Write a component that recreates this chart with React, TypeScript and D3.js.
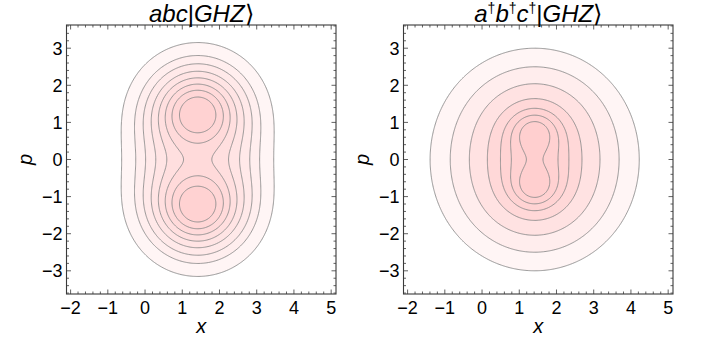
import React from 'react';
import * as d3 from 'd3';

// axis ranges and tick labels
const xDomain = [-2.11, 5.13];
const pDomain = [-3.625, 3.625];
const xTicks = [-2, -1, 0, 1, 2, 3, 4, 5];
const pTicks = [-3, -2, -1, 0, 1, 2, 3];

// left panel, abc|GHZ>: two lobes on the p axis, partly coherent (Husimi-like)
const leftCentre = [1.414, 0];
const leftLobe = 1.2;
const leftCoherence = -0.28;
const leftSpread = 2;
const leftLevels = [0.147, 0.272, 0.377, 0.485, 0.585, 0.678, 0.762, 0.839];
const leftPeak = 0.924;

// right panel, a†b†c†|GHZ>: polynomial (1, x², p²) times a round gaussian
const rightCentre = [1.414, 0];
const rightPoly = [1, 0.314, 0.49];
const rightSpread = 2.5;
const rightLevels = [0.148, 0.334, 0.574, 0.79, 0.9025, 0.96, 0.9956];
const rightPeak = 1.02;

const leftField = (x: number, p: number) => {
  const dx = x - leftCentre[0];
  const q = p - leftCentre[1];
  const s = leftSpread;
  const a = leftLobe;
  const g1 = Math.exp(-(dx * dx + (q - a) * (q - a)) / s);
  const g2 = Math.exp(-(dx * dx + (q + a) * (q + a)) / s);
  const mix = 2 * leftCoherence * Math.exp(-(a * a) / s) * Math.exp(-(dx * dx + q * q) / s) * Math.cos(a * dx);
  return g1 + g2 + mix;
};

const rightField = (x: number, p: number) => {
  const dx = x - rightCentre[0];
  const q = p - rightCentre[1];
  const poly = rightPoly[0] + rightPoly[1] * dx * dx + rightPoly[2] * q * q;
  return poly * Math.exp(-(dx * dx + q * q) / rightSpread);
};

const W = 705;
const H = 345;
const top = 25;
const bottom = 294;
const panelW = 269.5;
const fontFamily = '"Liberation Sans", Arial, sans-serif';
const shade = d3.interpolateRgb('rgb(255,252,252)', 'rgb(255,206,206)');

const Panel = ({ left, field, levels, peak, title }) => {
  const xScale = d3.scaleLinear().domain(xDomain).range([left, left + panelW]);
  const pScale = d3.scaleLinear().domain(pDomain).range([bottom, top]);

  const n = 300;
  const sx = (xDomain[1] - xDomain[0]) / (n - 1);
  const sp = (pDomain[1] - pDomain[0]) / (n - 1);
  const values: number[] = new Array(n * n);
  for (let j = 0; j < n; j++) {
    for (let i = 0; i < n; i++) {
      values[j * n + i] = field(xDomain[0] + i * sx, pDomain[1] - j * sp);
    }
  }
  const contours = d3.contours().size([n, n]).thresholds(levels)(values);
  const proj = d3.geoTransform({
    point: function (gx, gy) {
      this.stream.point(
        xScale(xDomain[0] + (gx - 0.5) * sx),
        pScale(pDomain[1] - (gy - 0.5) * sp)
      );
    },
  });
  const path = d3.geoPath(proj);

  const xMinor = d3.range(-2, 5.01, 0.2).filter(v => v >= xDomain[0] && v <= xDomain[1]);
  const pMinor = d3.range(-3.6, 3.61, 0.2).filter(v => v >= pDomain[0] && v <= pDomain[1]);
  const isMajor = (v: number) => Math.abs(v - Math.round(v)) < 1e-6;
  const clipId = 'clip' + Math.round(left);
  const frameColor = '#3a3a3a';

  return (
    <g>
      <defs>
        <clipPath id={clipId}>
          <rect x={left} y={top} width={panelW} height={bottom - top} />
        </clipPath>
      </defs>
      <rect x={left} y={top} width={panelW} height={bottom - top} fill="#fff" />
      <g clipPath={`url(#${clipId})`}>
        {contours.map((c, k) => (
          <path key={'f' + k} d={path(c)} fill={shade(c.value / peak)} stroke="none" />
        ))}
        {contours.map((c, k) => (
          <path key={'s' + k} d={path(c)} fill="none" stroke="#8a8a8a" strokeWidth={0.9} />
        ))}
      </g>
      {/* ticks on all four sides, pointing in */}
      {xMinor.map((v, k) => {
        const len = isMajor(v) ? 4.5 : 2.5;
        const x = xScale(v);
        return (
          <g key={'xt' + k} stroke={frameColor} strokeWidth={0.8}>
            <line x1={x} x2={x} y1={bottom} y2={bottom - len} />
            <line x1={x} x2={x} y1={top} y2={top + len} />
          </g>
        );
      })}
      {pMinor.map((v, k) => {
        const len = isMajor(v) ? 4.5 : 2.5;
        const y = pScale(v);
        return (
          <g key={'pt' + k} stroke={frameColor} strokeWidth={0.8}>
            <line x1={left} x2={left + len} y1={y} y2={y} />
            <line x1={left + panelW} x2={left + panelW - len} y1={y} y2={y} />
          </g>
        );
      })}
      <rect x={left} y={top} width={panelW} height={bottom - top} fill="none" stroke={frameColor} strokeWidth={1.1} />
      {xTicks.map(v => (
        <text key={'xl' + v} x={xScale(v)} y={314} textAnchor="middle" fontSize={18} fontFamily={fontFamily} fill="#000">
          {v < 0 ? '\u2212' + Math.abs(v) : v}
        </text>
      ))}
      {pTicks.map(v => (
        <text key={'pl' + v} x={left - 4} y={pScale(v) + 6.5} textAnchor="end" fontSize={18} fontFamily={fontFamily} fill="#000">
          {v < 0 ? '\u2212' + Math.abs(v) : v}
        </text>
      ))}
      <text x={left + panelW / 2} y={333} textAnchor="middle" fontSize={20} fontStyle="italic" fontFamily={fontFamily}>x</text>
      <text transform={`translate(${left - 35},${(top + bottom) / 2}) rotate(-90)`} textAnchor="middle" fontSize={20} fontStyle="italic" fontFamily={fontFamily}>p</text>
      <text x={left + panelW / 2} y={21.5} textAnchor="middle" fontSize={24} fontFamily={fontFamily}>
        {title}
      </text>
    </g>
  );
};

const leftTitle = (
  <>
    <tspan fontStyle="italic">abc</tspan>
    <tspan>|</tspan>
    <tspan fontStyle="italic">GHZ</tspan>
    <tspan>{'\u27E9'}</tspan>
  </>
);

const rightTitle = (
  <>
    <tspan fontStyle="italic">a</tspan>
    <tspan fontSize={14} dy={-9}>{'\u2020'}</tspan>
    <tspan fontStyle="italic" dy={9}>b</tspan>
    <tspan fontSize={14} dy={-9}>{'\u2020'}</tspan>
    <tspan fontStyle="italic" dy={9}>c</tspan>
    <tspan fontSize={14} dy={-9}>{'\u2020'}</tspan>
    <tspan dy={9}>|</tspan>
    <tspan fontStyle="italic">GHZ</tspan>
    <tspan>{'\u27E9'}</tspan>
  </>
);

export default function App() {
  return (
    <svg width={W} height={H} style={{ position: 'absolute', left: 0, top: 0, background: '#fff' }}>
      <Panel left={66.5} field={leftField} levels={leftLevels} peak={leftPeak} title={leftTitle} />
      <Panel left={403.5} field={rightField} levels={rightLevels} peak={rightPeak} title={rightTitle} />
    </svg>
  );
}
